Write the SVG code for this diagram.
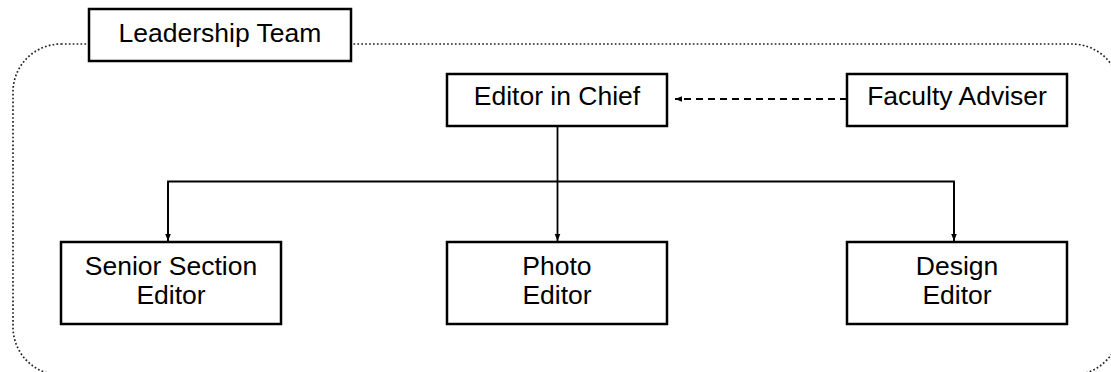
<svg xmlns="http://www.w3.org/2000/svg" width="1111" height="372" viewBox="0 0 1111 372">
<defs>
<style>
.box{fill:#fff;stroke:#000;stroke-width:2.5}
.t{font-family:"Liberation Sans",Arial,sans-serif;font-size:26.5px;fill:#000;text-anchor:middle}
.ln{fill:none;stroke:#000;stroke-width:1.8}
</style>
<marker id="ah" viewBox="0 0 10 10" refX="10" refY="5" markerWidth="7" markerHeight="7" markerUnits="userSpaceOnUse" orient="auto">
<path d="M0,1 L10,5 L0,9 z" fill="#000"/>
</marker>
</defs>
<rect width="1111" height="372" fill="#fff"/>
<g id="boundary">
<rect x="13" y="44" width="1107" height="331" rx="48" ry="48" fill="none" stroke="#222" stroke-width="1.7" stroke-dasharray="1.7 2.2"/>
</g>
<g id="connectors">
<line class="ln" x1="847" y1="99" x2="675" y2="99" stroke-dasharray="7 5" marker-end="url(#ah)"/>
<line class="ln" x1="557.5" y1="127" x2="557.5" y2="241" marker-end="url(#ah)"/>
<polyline class="ln" points="168,241 168,181.5 954,181.5 954,241"/>
<line class="ln" x1="168" y1="181.5" x2="168" y2="241" marker-end="url(#ah)"/>
<line class="ln" x1="954" y1="181.5" x2="954" y2="241" marker-end="url(#ah)"/>
</g>
<g id="leadership">
<rect class="box" x="89" y="9" width="262" height="52"/>
<text class="t" x="220" y="42">Leadership Team</text>
</g>
<g id="editor-in-chief">
<rect class="box" x="447" y="74" width="220" height="52"/>
<text class="t" x="557" y="105">Editor in Chief</text>
</g>
<g id="faculty-adviser">
<rect class="box" x="847" y="74" width="220" height="52"/>
<text class="t" x="957" y="105">Faculty Adviser</text>
</g>
<g id="senior-section-editor">
<rect class="box" x="61" y="242" width="220" height="82"/>
<text class="t" x="171" y="275">Senior Section</text>
<text class="t" x="171" y="304">Editor</text>
</g>
<g id="photo-editor">
<rect class="box" x="447" y="242" width="220" height="82"/>
<text class="t" x="557" y="275">Photo</text>
<text class="t" x="557" y="304">Editor</text>
</g>
<g id="design-editor">
<rect class="box" x="847" y="242" width="220" height="82"/>
<text class="t" x="957" y="275">Design</text>
<text class="t" x="957" y="304">Editor</text>
</g>
</svg>
